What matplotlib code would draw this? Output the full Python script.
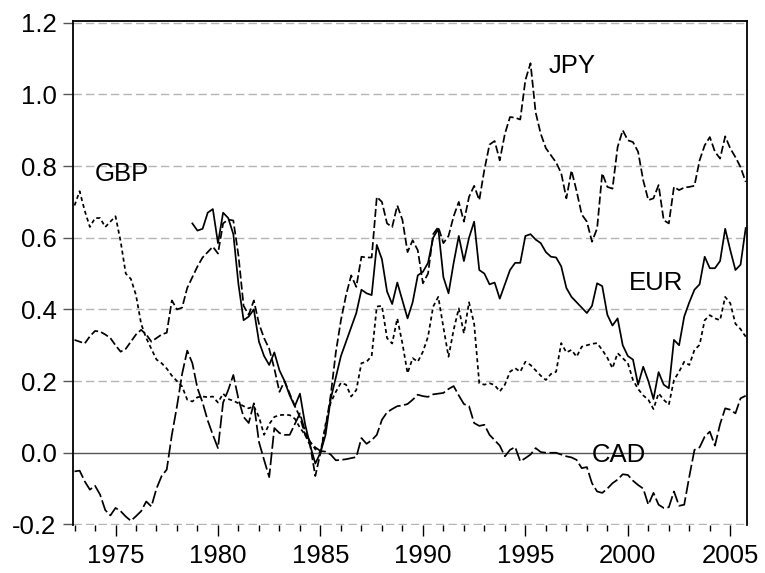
import matplotlib

matplotlib.use("Agg")
import matplotlib.pyplot as plt
import numpy as np
from matplotlib.ticker import FixedLocator, FormatStrFormatter, MultipleLocator

plt.rcParams["font.family"] = ["Liberation Sans", "DejaVu Sans"]
plt.rcParams["axes.unicode_minus"] = False

# quarterly values, 1973Q1 .. 2005Q4
start_year = 1973.0

gbp = [
    0.69, 0.73, 0.675, 0.63,
    0.655, 0.655, 0.63, 0.645,
    0.66, 0.59, 0.50, 0.485,
    0.44, 0.36, 0.32, 0.29,
    0.26, 0.25, 0.235, 0.215,
    0.20, 0.185, 0.148, 0.143,
    0.155, 0.157, 0.155, 0.157,
    0.14, 0.165, 0.15, 0.145,
    0.138, 0.13, 0.124, 0.13,
    0.10, 0.05, 0.08, 0.10,
    0.105, 0.106, 0.105, 0.095,
    0.07, 0.05, 0.03, 0.01,
    0.0, 0.08, 0.14, 0.17,
    0.195, 0.19, 0.157, 0.175,
    0.25, 0.254, 0.27, 0.408,
    0.41, 0.32, 0.305, 0.375,
    0.305, 0.222, 0.264, 0.254,
    0.282, 0.324, 0.408, 0.435,
    0.35, 0.268, 0.343, 0.403,
    0.333, 0.42, 0.36, 0.194,
    0.19, 0.194, 0.189, 0.171,
    0.19, 0.226, 0.236, 0.226,
    0.254, 0.245, 0.23, 0.215,
    0.203, 0.22, 0.226, 0.306,
    0.28, 0.287, 0.268, 0.296,
    0.30, 0.304, 0.306, 0.287,
    0.265, 0.236, 0.278, 0.264,
    0.25, 0.203, 0.178, 0.16,
    0.148, 0.122, 0.166, 0.148,
    0.134, 0.203, 0.226, 0.254,
    0.245, 0.287, 0.301, 0.37,
    0.384, 0.375, 0.37, 0.435,
    0.417, 0.36, 0.345, 0.324,
]

jpy = [
    0.315, 0.31, 0.305, 0.325,
    0.34, 0.338, 0.33, 0.32,
    0.30, 0.282, 0.29, 0.31,
    0.33, 0.343, 0.33, 0.31,
    0.32, 0.33, 0.335, 0.425,
    0.40, 0.405, 0.46, 0.49,
    0.52, 0.545, 0.56, 0.575,
    0.556, 0.64, 0.651, 0.648,
    0.55, 0.41, 0.385, 0.425,
    0.36, 0.32, 0.29, 0.235,
    0.17, 0.20, 0.165, 0.13,
    0.10, 0.05, 0.02, -0.065,
    0.0, 0.07, 0.16, 0.28,
    0.37, 0.44, 0.495, 0.463,
    0.547, 0.545, 0.545, 0.714,
    0.70, 0.64, 0.63, 0.69,
    0.65, 0.56, 0.593, 0.565,
    0.473, 0.50, 0.61, 0.63,
    0.585, 0.605, 0.66, 0.70,
    0.645, 0.714, 0.745, 0.705,
    0.79, 0.86, 0.87, 0.816,
    0.89, 0.937, 0.935, 0.93,
    1.04, 1.087, 0.95, 0.89,
    0.85, 0.83, 0.81, 0.78,
    0.71, 0.788, 0.73, 0.665,
    0.645, 0.589, 0.626, 0.78,
    0.742, 0.737, 0.853, 0.90,
    0.872, 0.867, 0.84, 0.76,
    0.705, 0.71, 0.747, 0.649,
    0.64, 0.742, 0.733, 0.74,
    0.742, 0.745, 0.816, 0.858,
    0.881, 0.84, 0.821, 0.883,
    0.849, 0.825, 0.797, 0.756,
]

cad = [
    -0.052, -0.05, -0.08, -0.103,
    -0.092, -0.117, -0.16, -0.175,
    -0.154, -0.163, -0.178, -0.19,
    -0.177, -0.163, -0.136, -0.15,
    -0.10, -0.065, -0.047, 0.05,
    0.13, 0.22, 0.285, 0.25,
    0.18, 0.14, 0.09, 0.05,
    0.013, 0.14, 0.175, 0.217,
    0.15, 0.10, 0.083, 0.138,
    0.03, -0.02, -0.068, 0.069,
    0.055, 0.05, 0.05, 0.08,
    0.11, 0.06, 0.03, 0.015,
    0.005, 0.003, -0.005, -0.021,
    -0.02, -0.018, -0.015, -0.012,
    0.041, 0.025, 0.035, 0.05,
    0.092, 0.113, 0.122, 0.13,
    0.132, 0.136, 0.148, 0.162,
    0.158, 0.156, 0.163, 0.165,
    0.167, 0.178, 0.186, 0.16,
    0.136, 0.13, 0.083, 0.075,
    0.078, 0.05, 0.035, 0.02,
    -0.01, 0.008, 0.016, -0.024,
    -0.015, -0.005, 0.013, 0.002,
    0.0, 0.0, 0.0, -0.005,
    -0.01, -0.013, -0.02, -0.043,
    -0.04, -0.085, -0.108, -0.112,
    -0.10, -0.085, -0.075, -0.06,
    -0.062, -0.078, -0.09, -0.10,
    -0.145, -0.112, -0.145, -0.154,
    -0.152, -0.108, -0.148, -0.145,
    -0.066, 0.008, 0.015, 0.045,
    0.059, 0.02, 0.08, 0.124,
    0.12, 0.11, 0.152, 0.159,
]

# EUR starts 1978Q4
eur = [
    0.64,
    0.62, 0.625, 0.67, 0.68,
    0.585, 0.67, 0.655, 0.61,
    0.47, 0.37, 0.38, 0.40,
    0.31, 0.27, 0.245, 0.28,
    0.23, 0.20, 0.16, 0.13,
    0.165, 0.08, 0.02, -0.03,
    0.0, 0.05, 0.15, 0.21,
    0.27, 0.31, 0.35, 0.39,
    0.455, 0.445, 0.44, 0.58,
    0.54, 0.45, 0.415, 0.475,
    0.425, 0.375, 0.42, 0.495,
    0.505, 0.53, 0.60, 0.625,
    0.49, 0.445, 0.53, 0.605,
    0.535, 0.60, 0.645, 0.51,
    0.50, 0.47, 0.475, 0.43,
    0.47, 0.51, 0.53, 0.53,
    0.605, 0.61, 0.595, 0.585,
    0.56, 0.547, 0.545, 0.52,
    0.46, 0.435, 0.42, 0.405,
    0.39, 0.41, 0.473, 0.465,
    0.385, 0.355, 0.375, 0.30,
    0.27, 0.26, 0.19, 0.24,
    0.20, 0.15, 0.225, 0.19,
    0.18, 0.315, 0.30, 0.38,
    0.42, 0.455, 0.47, 0.547,
    0.515, 0.515, 0.535, 0.625,
    0.565, 0.51, 0.525, 0.627,
]

labels = {
    "JPY": (1997.27, 1.061),
    "GBP": (1975.31, 0.758),
    "EUR": (2001.39, 0.454),
    "CAD": (1999.54, -0.025),
}

t = start_year + np.arange(len(gbp)) / 4.0
t_eur = t[-len(eur):]

fig = plt.figure(figsize=(7.65, 5.73), dpi=100)
ax = fig.add_axes([0.0958, 0.0829, 0.8811, 0.8805])

ax.set_xlim(1972.94, 2005.83)
ax.set_ylim(-0.203, 1.205)

yticks = [-0.2, 0.2, 0.4, 0.6, 0.8, 1.0, 1.2]
for yv in yticks:
    ax.axhline(yv, color="#b4b4b4", linewidth=1.0, linestyle=(0, (6, 3)), zorder=1)
ax.axhline(0.0, color="#555555", linewidth=1.0, zorder=1)

lw = 1.25
ax.plot(t_eur, eur, color="black", linewidth=lw, zorder=3)
ax.plot(t, jpy, color="black", linewidth=lw, dashes=(4.6, 1.8), zorder=3)
ax.plot(t, gbp, color="black", linewidth=lw, dashes=(2.3, 1.8), zorder=3)
ax.plot(t, cad, color="black", linewidth=lw, dashes=(7.5, 2.0), zorder=3)

for name, (xv, yv) in labels.items():
    ax.text(xv, yv, name, ha="center", va="baseline", fontsize=18.5, color="black", zorder=4)

ax.yaxis.set_major_locator(FixedLocator([-0.2, 0.0, 0.2, 0.4, 0.6, 0.8, 1.0, 1.2]))
ax.yaxis.set_major_formatter(FormatStrFormatter("%.1f"))
ax.xaxis.set_major_locator(FixedLocator([1975, 1980, 1985, 1990, 1995, 2000, 2005]))
ax.xaxis.set_major_formatter(FormatStrFormatter("%d"))
ax.xaxis.set_minor_locator(MultipleLocator(1))

ax.tick_params(axis="both", which="major", direction="out", labelsize=18.5, width=1.0)
ax.tick_params(axis="y", length=7, color="#555555", pad=5)
ax.tick_params(axis="x", which="major", length=8, pad=5)
ax.tick_params(axis="x", which="minor", length=4.5, width=1.0)

for side in ("top", "left", "right"):
    ax.spines[side].set_linewidth(1.3)
    ax.spines[side].set_color("black")
ax.spines["bottom"].set_visible(False)

fig.savefig("out.png", dpi=100)
plt.close(fig)
